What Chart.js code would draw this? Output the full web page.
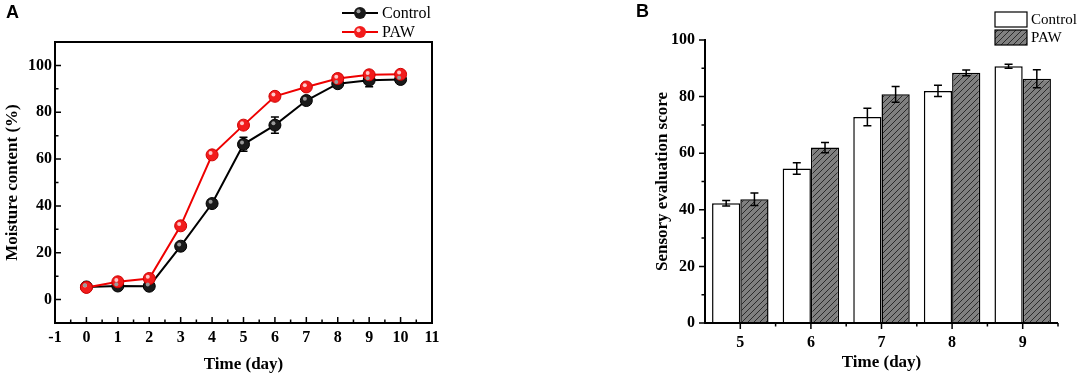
<!DOCTYPE html>
<html>
<head>
<meta charset="utf-8">
<script src="https://cdn.jsdelivr.net/npm/chart.js"></script>
<style>
  html, body { margin: 0; padding: 0; background: #fff; }
  #wrap { position: relative; width: 1084px; height: 382px; }
  #chart-a { position: absolute; left: 0; top: 0; }
  #chart-b { position: absolute; left: 620px; top: 0; }
</style>
</head>
<body>
<div id="wrap">
  <canvas id="chart-a" width="460" height="382"></canvas>
  <canvas id="chart-b" width="464" height="382"></canvas>
</div>
<script>
// panel A: moisture content
const daysA = [0, 1, 2, 3, 4, 5, 6, 7, 8, 9, 10];
const controlA = [5.4, 5.8, 5.7, 22.8, 41, 66.3, 74.5, 85, 92.2, 93.7, 94];
const controlAErr = [0.8, 0.8, 0.8, 1.2, 1, 3, 3.5, 1.5, 1.2, 2.8, 1];
const pawA = [5.2, 7.6, 9, 31.5, 61.8, 74.5, 86.8, 90.8, 94.4, 96, 96.2];
const pawAErr = [0.6, 0.8, 0.8, 1, 1, 1, 0.8, 0.8, 0.8, 1, 0.8];
const yTicksA = [0, 20, 40, 60, 80, 100];

// panel B: sensory score
const daysB = ['5', '6', '7', '8', '9'];
const controlB = [42.3, 54.6, 72.8, 82, 90.7];
const controlBErr = [1, 2, 3.1, 2, 0.7];
const pawB = [43.7, 62, 80.8, 88.4, 86.3];
const pawBErr = [2.2, 1.8, 2.8, 1, 3.2];
const yTicksB = [0, 20, 40, 60, 80, 100];

const serif = "'Liberation Serif', 'Times New Roman', serif";
const sans = "'Liberation Sans', Arial, sans-serif";

Chart.defaults.font.family = serif;
Chart.defaults.color = '#000';

function hatchPattern() {
  const c = document.createElement('canvas');
  c.width = 6; c.height = 6;
  const g = c.getContext('2d');
  g.fillStyle = '#808080';
  g.fillRect(0, 0, 6, 6);
  g.strokeStyle = '#2a2a2a';
  g.lineWidth = 1;
  g.beginPath();
  g.moveTo(-1, 7); g.lineTo(7, -1);
  g.moveTo(-4, 4); g.lineTo(4, -4);
  g.moveTo(2, 10); g.lineTo(10, 2);
  g.stroke();
  return g.createPattern(c, 'repeat');
}

// error bars read from dataset.errors
const errorBars = {
  id: 'errorBars',
  beforeDatasetsDraw(chart, args, opts) {
    if (opts.front) return;
    drawErrors(chart, opts);
  },
  afterDatasetsDraw(chart, args, opts) {
    if (opts.front) drawErrors(chart, opts);
  }
};

function drawErrors(chart, opts) {
  const ctx = chart.ctx;
  const y = chart.scales.y;
  chart.data.datasets.forEach((ds, di) => {
    const meta = chart.getDatasetMeta(di);
    ctx.save();
    ctx.strokeStyle = ds.errColor || '#000';
    ctx.lineWidth = 1.5;
    ds.errors.forEach((e, i) => {
      const el = meta.data[i];
      const v = typeof ds.data[i] === 'object' ? ds.data[i].y : ds.data[i];
      const x = el.x;
      const top = y.getPixelForValue(v + e);
      const bot = y.getPixelForValue(v - e);
      const w = opts.cap || 4;
      ctx.beginPath();
      ctx.moveTo(x, top); ctx.lineTo(x, bot);
      ctx.moveTo(x - w, top); ctx.lineTo(x + w, top);
      ctx.moveTo(x - w, bot); ctx.lineTo(x + w, bot);
      ctx.stroke();
    });
    ctx.restore();
  });
}

// little highlight on the round markers
const shine = {
  id: 'shine',
  afterDatasetsDraw(chart) {
    const ctx = chart.ctx;
    chart.data.datasets.forEach((ds, di) => {
      const meta = chart.getDatasetMeta(di);
      ctx.save();
      ctx.fillStyle = ds.shineColor;
      meta.data.forEach(p => {
        ctx.beginPath();
        ctx.arc(p.x - 1.5, p.y - 1.8, 2, 0, Math.PI * 2);
        ctx.fill();
      });
      ctx.restore();
    });
  }
};

const decorA = {
  id: 'decorA',
  afterDraw(chart) {
    const ctx = chart.ctx;
    const a = chart.chartArea;
    const xs = chart.scales.x, ys = chart.scales.y;
    ctx.save();
    ctx.strokeStyle = '#000';
    ctx.lineWidth = 2;
    ctx.strokeRect(a.left, a.top, a.right - a.left, a.bottom - a.top);
    ctx.lineWidth = 1.5;
    ctx.beginPath();
    for (let v = -1; v <= 11; v += 0.5) {
      const px = xs.getPixelForValue(v);
      const len = Number.isInteger(v) ? 6 : 3.5;
      ctx.moveTo(px, a.bottom); ctx.lineTo(px, a.bottom - len);
    }
    for (let v = 0; v <= 100; v += 10) {
      const py = ys.getPixelForValue(v);
      const len = v % 20 === 0 ? 6 : 3.5;
      ctx.moveTo(a.left, py); ctx.lineTo(a.left + len, py);
    }
    ctx.stroke();

    // legend
    const items = [
      { text: 'Control', ds: chart.data.datasets[1], y: 13 },
      { text: 'PAW', ds: chart.data.datasets[0], y: 32 }
    ];
    items.forEach(it => {
      ctx.strokeStyle = it.ds.borderColor;
      ctx.lineWidth = 2;
      ctx.beginPath();
      ctx.moveTo(342, it.y); ctx.lineTo(378, it.y);
      ctx.stroke();
      ctx.fillStyle = it.ds.pointBackgroundColor;
      ctx.beginPath();
      ctx.arc(360, it.y, 6, 0, Math.PI * 2);
      ctx.fill();
      ctx.fillStyle = it.ds.shineColor;
      ctx.beginPath();
      ctx.arc(358.5, it.y - 1.8, 2, 0, Math.PI * 2);
      ctx.fill();
      ctx.fillStyle = '#000';
      ctx.font = '16px ' + serif;
      ctx.textBaseline = 'middle';
      ctx.fillText(it.text, 382, it.y + 1);
    });

    ctx.font = 'bold 18px ' + sans;
    ctx.textBaseline = 'middle';
    ctx.fillText('A', 6, 13);
    ctx.restore();
  }
};

const decorB = {
  id: 'decorB',
  afterDraw(chart) {
    const ctx = chart.ctx;
    const a = chart.chartArea;
    const xs = chart.scales.x, ys = chart.scales.y;
    ctx.save();
    ctx.strokeStyle = '#000';
    ctx.lineWidth = 2;
    ctx.beginPath();
    ctx.moveTo(a.left, a.top - 1); ctx.lineTo(a.left, a.bottom);
    ctx.lineTo(a.right, a.bottom);
    ctx.stroke();
    ctx.lineWidth = 1.5;
    ctx.beginPath();
    for (let v = 0; v <= 100; v += 10) {
      const py = ys.getPixelForValue(v);
      const len = v % 20 === 0 ? 6 : 3.5;
      ctx.moveTo(a.left, py); ctx.lineTo(a.left - len, py);
    }
    daysB.forEach((d, i) => {
      const px = xs.getPixelForValue(i);
      ctx.moveTo(px, a.bottom); ctx.lineTo(px, a.bottom + 6);
      if (i < daysB.length - 1) {
        const mid = (px + xs.getPixelForValue(i + 1)) / 2;
        ctx.moveTo(mid, a.bottom); ctx.lineTo(mid, a.bottom + 3.5);
      }
    });
    const last = xs.getPixelForValue(daysB.length - 1);
    const half = (last - xs.getPixelForValue(daysB.length - 2)) / 2;
    ctx.moveTo(last + half, a.bottom); ctx.lineTo(last + half, a.bottom + 3.5);
    ctx.stroke();

    // legend
    const items = [
      { text: 'Control', ds: chart.data.datasets[0], y: 12 },
      { text: 'PAW', ds: chart.data.datasets[1], y: 30 }
    ];
    items.forEach(it => {
      ctx.fillStyle = it.ds.backgroundColor;
      ctx.fillRect(375, it.y, 32, 15);
      ctx.strokeStyle = '#000';
      ctx.lineWidth = 1.2;
      ctx.strokeRect(375, it.y, 32, 15);
      ctx.fillStyle = '#000';
      ctx.font = '15px ' + serif;
      ctx.textBaseline = 'middle';
      ctx.fillText(it.text, 411, it.y + 8);
    });

    ctx.font = 'bold 18px ' + sans;
    ctx.textBaseline = 'middle';
    ctx.fillText('B', 16, 12);
    ctx.restore();
  }
};

const tickFont = { family: serif, size: 16, weight: 'bold' };
const titleFont = { family: serif, size: 17, weight: 'bold' };

new Chart(document.getElementById('chart-a'), {
  type: 'line',
  data: {
    datasets: [
      {
        label: 'PAW',
        data: daysA.map((d, i) => ({ x: d, y: pawA[i] })),
        errors: pawAErr,
        errColor: '#e00000',
        borderColor: '#ee0000',
        pointBackgroundColor: '#f21c1c',
        pointBorderColor: '#d00000',
        shineColor: '#ffc8c8',
        borderWidth: 2,
        pointRadius: 6,
        pointBorderWidth: 1,
        order: 0
      },
      {
        label: 'Control',
        data: daysA.map((d, i) => ({ x: d, y: controlA[i] })),
        errors: controlAErr,
        errColor: '#000',
        borderColor: '#000',
        pointBackgroundColor: '#1a1a1a',
        pointBorderColor: '#000',
        shineColor: '#9a9a9a',
        borderWidth: 2,
        pointRadius: 6,
        pointBorderWidth: 1,
        order: 1
      }
    ]
  },
  options: {
    responsive: false,
    animation: false,
    devicePixelRatio: 1,
    layout: { padding: { top: 42, right: 28, left: 0, bottom: 0 } },
    plugins: {
      legend: { display: false },
      tooltip: { enabled: false },
      errorBars: { cap: 4 }
    },
    scales: {
      x: {
        type: 'linear',
        min: -1, max: 11,
        ticks: { stepSize: 1, font: tickFont, padding: 5, maxRotation: 0 },
        grid: { display: false, drawTicks: false },
        border: { display: false },
        title: { display: true, text: 'Time (day)', font: titleFont, padding: { bottom: 7 } },
        afterFit(s) { s.height = 59; }
      },
      y: {
        min: -10, max: 110,
        afterBuildTicks(s) { s.ticks = yTicksA.map(v => ({ value: v })); },
        ticks: { font: tickFont, padding: 3 },
        grid: { display: false, drawTicks: false },
        border: { display: false },
        title: { display: true, text: 'Moisture content (%)', font: titleFont, padding: { top: 2 } },
        afterFit(s) { s.width = 55; }
      }
    }
  },
  plugins: [errorBars, shine, decorA]
});

new Chart(document.getElementById('chart-b'), {
  type: 'bar',
  data: {
    labels: daysB,
    datasets: [
      {
        label: 'Control',
        data: controlB,
        errors: controlBErr,
        backgroundColor: '#ffffff',
        borderColor: '#000',
        borderWidth: 1.5
      },
      {
        label: 'PAW',
        data: pawB,
        errors: pawBErr,
        backgroundColor: hatchPattern(),
        borderColor: '#000',
        borderWidth: 1.5
      }
    ]
  },
  options: {
    responsive: false,
    animation: false,
    devicePixelRatio: 1,
    layout: { padding: { top: 40, right: 26, left: 20, bottom: 0 } },
    datasets: { bar: { categoryPercentage: 0.8, barPercentage: 1.0 } },
    plugins: {
      legend: { display: false },
      tooltip: { enabled: false },
      errorBars: { cap: 4, front: true }
    },
    scales: {
      x: {
        ticks: { font: tickFont, padding: 10 },
        grid: { display: false, drawTicks: false },
        border: { display: false },
        title: { display: true, text: 'Time (day)', font: titleFont, padding: { bottom: 9 } },
        afterFit(s) { s.height = 59; }
      },
      y: {
        min: 0, max: 100,
        afterBuildTicks(s) { s.ticks = yTicksB.map(v => ({ value: v })); },
        ticks: { font: tickFont, padding: 10 },
        grid: { display: false, drawTicks: false },
        border: { display: false },
        title: { display: true, text: 'Sensory evaluation score', font: titleFont, padding: { top: 12 } },
        afterFit(s) { s.width = 65; }
      }
    }
  },
  plugins: [errorBars, decorB]
});
</script>
</body>
</html>
